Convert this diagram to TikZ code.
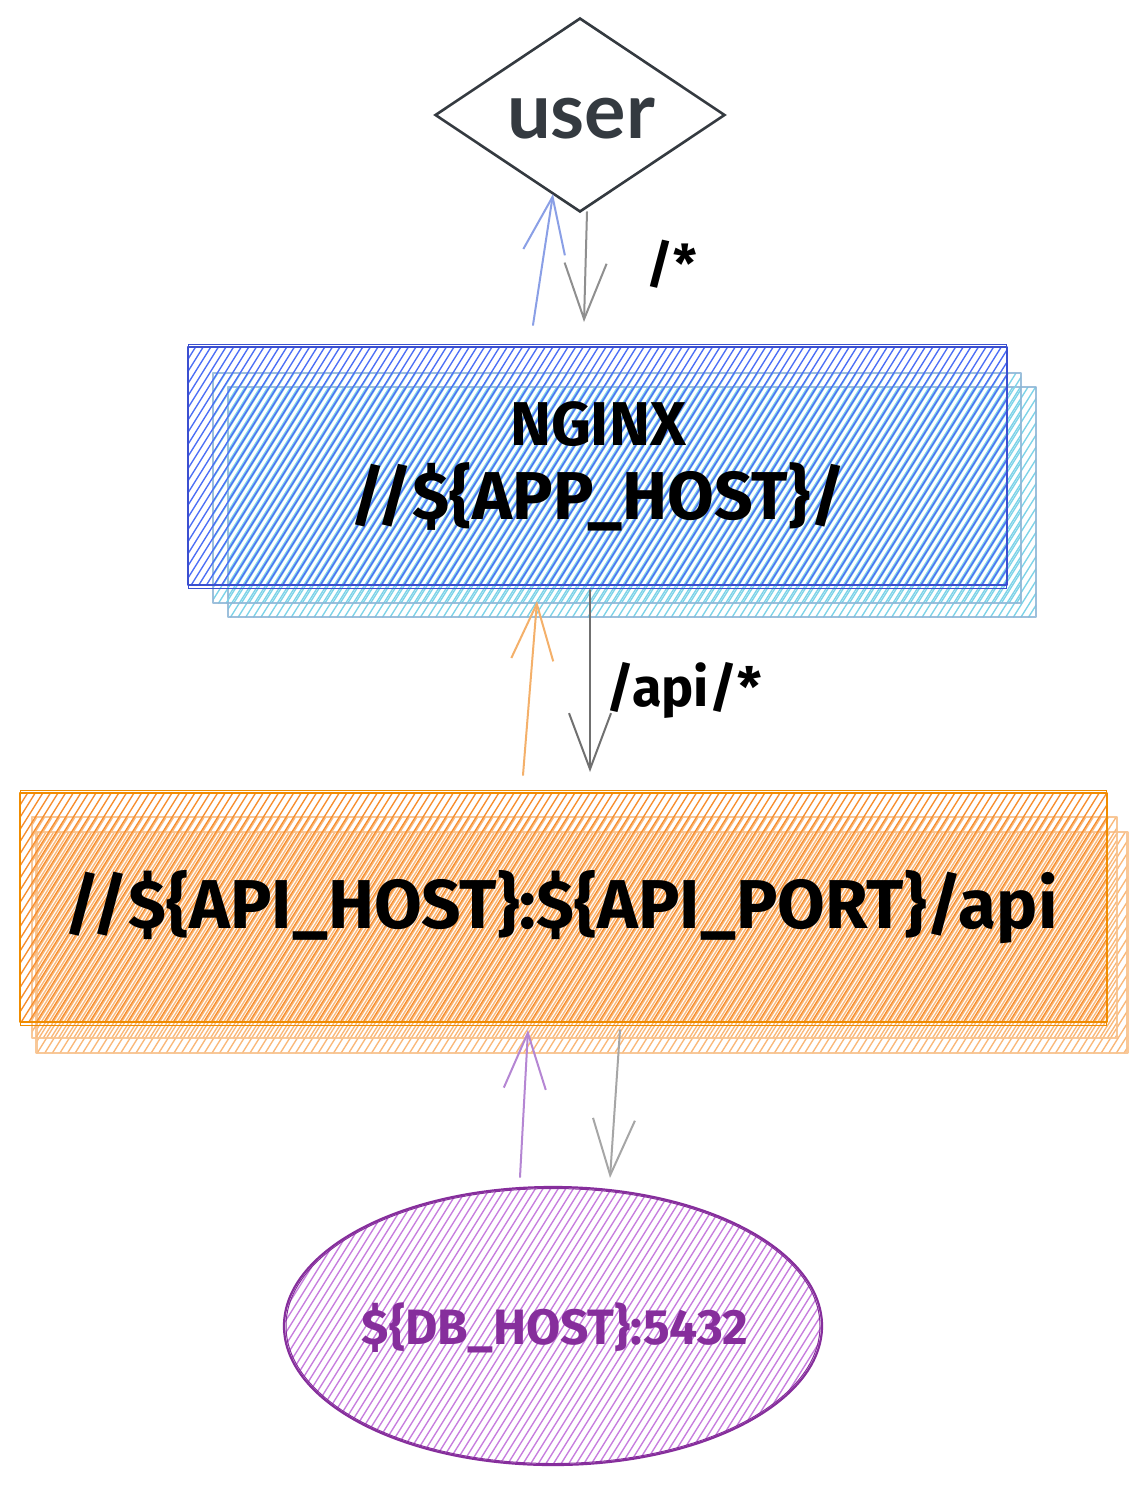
\documentclass[tikz,border=0pt]{standalone}
\usepackage{fontspec}
\setmainfont{Fira Sans}
\newfontfamily\userfont{Lato}
\usetikzlibrary{arrows.meta,shapes.geometric,calc}
\definecolor{ink}{HTML}{343A40}
\definecolor{blueline}{HTML}{3B4FD0}
\definecolor{bluehatch}{HTML}{4C6EF5}
\definecolor{cyanline}{HTML}{8DB6D6}
\definecolor{cyanhatch}{HTML}{7CD3E8}
\definecolor{orangeline}{HTML}{F08C00}
\definecolor{orangehatch}{HTML}{F78E2E}
\definecolor{orangeback}{HTML}{F8C38E}
\definecolor{orangebackhatch}{HTML}{FAB878}
\definecolor{purpleline}{HTML}{862E9C}
\definecolor{purplehatch}{HTML}{C77DDE}
\definecolor{arrowblue}{HTML}{8A9FE6}
\definecolor{arroworange}{HTML}{F4B06A}
\definecolor{arrowpurple}{HTML}{B586D3}
\definecolor{graydark}{HTML}{707070}
\definecolor{graymid}{HTML}{8F8F8F}
\definecolor{graylight}{HTML}{A6A6A6}
% hatch lines: x0 y0 x1 y1 colour phase (y grows downward)
\newcommand\hatchlines[6]{%
  \pgfmathsetmacro\hh{#4-#2}%
  \pgfmathsetmacro\hdx{0.625*\hh}%
  \pgfmathsetmacro\hstart{#1-\hdx+#6}%
  \pgfmathsetmacro\hsecond{\hstart+7.6}%
  \foreach \xx in {\hstart,\hsecond,...,#3}
    \draw[hatchstroke,#5] (\xx,#4) -- ++(\hdx,-\hh);
}
\tikzset{
  hatchstroke/.style={line width=1.35pt,line cap=round},
  boxnode/.style={rectangle,inner sep=0pt,line width=2.2pt,line join=round},
  conn/.style={line width=2pt,line cap=round,line join=round,
    -{Straight Barb[length=56pt,width=42pt,line width=2pt]}},
  handtext/.style={font=\bfseries\fontsize{56}{70}\selectfont,text=black,align=center}
}
\begin{document}
\begin{tikzpicture}[x=1pt,y=-1pt]
\fill[white] (0,0) rectangle (1147,1486);
\useasboundingbox (0,0) rectangle (1147,1486);

% ---- user diamond
\node[diamond,draw=ink,line width=2.6pt,inner sep=0pt,minimum width=290pt,minimum height=194pt] (user) at (580,115) {};
\node[font=\userfont\bfseries\fontsize{72}{76}\selectfont,text=ink] (usertext) at (581,119) {\resizebox{148pt}{!}{user}};

% ---- nginx boxes (back to front)
\begin{scope}\clip (228,387) rectangle (1036,617); \hatchlines{228}{387}{1036}{617}{cyanhatch}{2}\end{scope}
\node[boxnode,draw=cyanline,opacity=0.85,minimum width=808pt,minimum height=230pt] (nginxb2) at (632,502) {};
\begin{scope}\clip (213,373) rectangle (1021,603); \hatchlines{213}{373}{1021}{603}{cyanhatch}{5}\end{scope}
\node[boxnode,draw=cyanline,opacity=0.85,minimum width=808pt,minimum height=230pt] (nginxb1) at (617,488) {};
\begin{scope}\clip (188,347) rectangle (1007,585); \hatchlines{188}{347}{1007}{585}{bluehatch}{0}\end{scope}
\node[boxnode,draw=blueline,minimum width=819pt,minimum height=238pt] (nginx) at (597.5,466) {};
\draw[blueline,line width=1pt] ($(nginx.north west)+(2,-1.5)$) rectangle ($(nginx.south east)+(-1.5,2)$);
\node[handtext] (nginxtext) at (598,466) {\resizebox{176pt}{!}{NGINX}\\[4pt]\resizebox{495pt}{!}{//\$\{APP\_HOST\}/}};

% ---- api boxes (back to front)
\begin{scope}\clip (36.5,832) rectangle (1127.5,1053); \hatchlines{36.5}{832}{1127.5}{1053}{orangebackhatch}{2}\end{scope}
\node[boxnode,draw=orangeback,opacity=0.9,minimum width=1091pt,minimum height=221pt] (apib2) at (582,942.5) {};
\begin{scope}\clip (32,817) rectangle (1117,1038); \hatchlines{32}{817}{1117}{1038}{orangebackhatch}{5}\end{scope}
\node[boxnode,draw=orangeback,opacity=0.9,minimum width=1085pt,minimum height=221pt] (apib1) at (574.5,927.5) {};
\begin{scope}\clip (20,793) rectangle (1107,1022); \hatchlines{20}{793}{1107}{1022}{orangehatch}{0}\end{scope}
\node[boxnode,draw=orangeline,minimum width=1087pt,minimum height=229pt] (api) at (563.5,907.5) {};
\draw[orangeline,line width=1pt] ($(api.north west)+(2,-1.5)$) rectangle ($(api.south east)+(-1.5,2)$);
\node[handtext] (apitext) at (561,907) {\resizebox{993pt}{!}{//\$\{API\_HOST\}:\$\{API\_PORT\}/api}};

% ---- db ellipse
\begin{scope}\clip (553,1326) ellipse [x radius=268, y radius=138]; \hatchlines{285}{1188}{821}{1464}{purplehatch}{0}\end{scope}
\node[ellipse,draw=purpleline,line width=2.2pt,inner sep=0pt,
  minimum width=538pt,minimum height=278pt] (db) at (553,1326) {};
\draw[purpleline,line width=1pt] (db.center) ellipse [x radius=267, y radius=137.5];
\node[font=\bfseries\fontsize{40}{44}\selectfont,text=purpleline] (dbtext) at (555,1328) {\resizebox{386pt}{!}{\$\{DB\_HOST\}:5432}};

% ---- connectors
\coordinate (ua) at (533,325);  \coordinate (ub) at (553,194);
\coordinate (uc) at (587,212);  \coordinate (ud) at (584,322);
\coordinate (na) at (523,775);  \coordinate (nb) at (537,601);
\coordinate (nc) at (590,590);  \coordinate (nd) at (590,772);
\coordinate (aa) at (520,1177); \coordinate (ab) at (528,1030);
\coordinate (ac) at (620,1030); \coordinate (ad) at (610,1178);

\draw[conn,arrowblue] (ua) -- (ub);
\draw[conn,graymid] (uc) -- (ud);
\draw[conn,arroworange] (na) -- (nb);
\draw[conn,graydark] (nc) -- (nd);
\draw[conn,arrowpurple] (aa) -- (ab);
\draw[conn,graylight] (ac) -- (ad);

% ---- labels
\node[handtext,font=\bfseries\fontsize{52}{60}\selectfont] (lbl1) at (672,264) {/*};
\node[handtext,font=\bfseries\fontsize{54}{60}\selectfont] (lbl2) at (684,690) {/api/*};
\end{tikzpicture}
\end{document}
